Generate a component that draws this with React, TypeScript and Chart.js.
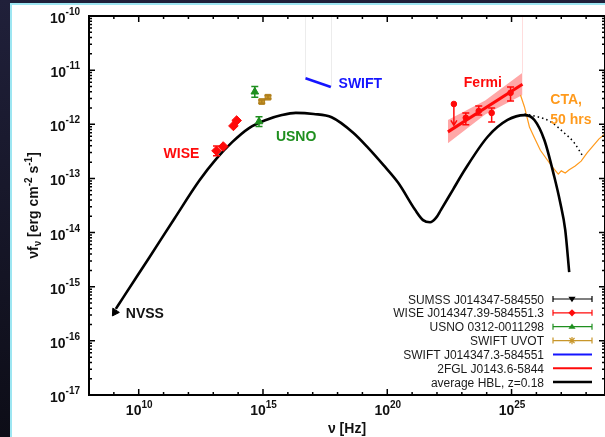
import { useEffect, useRef } from 'react';
import { Chart, registerables } from 'chart.js';

Chart.register(...registerables);

const FONT = '"Liberation Sans", Arial, Helvetica, sans-serif';

// Axes are in decades: log10(ν / Hz) and log10(νFν / erg cm^-2 s^-1)
const X_MIN = 8;
const X_MAX = 28.76;
const Y_MIN = -17;
const Y_MAX = -10;
const xLabelDecades = [10, 15, 20, 25];
const yLabelDecades = [-17, -16, -15, -14, -13, -12, -11, -10];

// average HBL template, z = 0.18
const hblLogNu = [9.08, 9.36, 10.44, 11.44, 12.44, 13.12, 13.76, 14.44, 15.12, 15.76, 16.32, 17.04, 17.76, 18.64, 19.24, 19.84, 20.44, 21.12, 21.44, 21.72, 21.96, 22.16, 22.64, 23.12, 24.04, 24.84, 25.52, 25.92, 26.32, 26.72, 26.96, 27.16, 27.32];
const hblLogFlux = [-15.41, -15.21, -14.45, -13.74, -13.04, -12.64, -12.33, -12.07, -11.92, -11.83, -11.79, -11.81, -11.87, -12.16, -12.44, -12.75, -13.08, -13.58, -13.77, -13.81, -13.73, -13.58, -13.21, -12.84, -12.23, -11.92, -11.83, -11.92, -12.29, -12.97, -13.45, -13.95, -14.73];

// intrinsic (unabsorbed) continuation of the template
const hblIntrinsicLogNu = [25.52, 26.04, 26.56, 27.12, 27.52, 27.84];
const hblIntrinsicLogFlux = [-11.81, -11.86, -11.95, -12.16, -12.34, -12.57];

// CTA sensitivity, 50 hrs
const ctaLogNu = [25.36, 25.52, 25.72, 25.92, 26.16, 26.44, 26.68, 26.88, 27.0, 27.16, 27.32, 27.56, 27.8, 28.04, 28.28, 28.52, 28.76];
const ctaLogFlux = [-11.46, -11.68, -12.05, -12.25, -12.48, -12.66, -12.81, -12.92, -12.86, -12.9, -12.84, -12.77, -12.68, -12.53, -12.4, -12.27, -12.18];

// 2FGL power-law fit and its butterfly
const fermiFitLogNu = [22.44, 25.44];
const fermiFitLogFlux = [-12.14, -11.26];
const fermiBandLogNu = [22.44, 23.94, 25.44];
const fermiBandHigh = [-11.92, -11.56, -11.05];
const fermiBandLow = [-12.35, -11.82, -11.46];

// 2FGL band fluxes
const fermiLogNu = [23.16, 23.68, 24.2, 24.96];
const fermiLogFlux = [-11.88, -11.755, -11.79, -11.42];
const fermiErrLow = [-12.01, -11.83, -11.96, -11.57];
const fermiErrHigh = [-11.79, -11.66, -11.7, -11.31];
const fermiLimitLogNu = [22.68];
const fermiLimitLogFlux = [-11.625];
const fermiLimitArrowTo = [-12.02];

// SWIFT XRT spectrum
const swiftLogNu = [16.71, 17.73];
const swiftLogFlux = [-11.15, -11.31];

// WISE
const wiseLogNu = [13.13, 13.4, 13.81, 13.94];
const wiseLogFlux = [-12.49, -12.41, -12.03, -11.93];
const wiseErr = [0.09, 0, 0, 0];

// USNO
const usnoLogNu = [14.67, 14.84];
const usnoLogFlux = [-11.4, -11.95];
const usnoErr = [0.1, 0.09];

// SWIFT UVOT
const uvotLogNu = [14.95, 15.2];
const uvotLogFlux = [-11.58, -11.5];
const uvotErr = [0.03, 0.03];

// SUMSS
const sumssLogNu = [9.04];
const sumssLogFlux = [-15.47];

const RED = '#ff0a0a';
const GREEN = '#1f8f1f';
const BLUE = '#1515ff';
const GOLD = '#c8962a';
const ORANGE = '#ff9a1c';

const legendLabels = [
  'SUMSS J014347-584550',
  'WISE J014347.39-584551.3',
  'USNO 0312-0011298',
  'SWIFT UVOT',
  'SWIFT J014347.3-584551',
  '2FGL J0143.6-5844',
  'average HBL, z=0.18',
];
const legendKinds = ['err', 'err', 'err', 'err', 'line', 'line', 'line'];
const legendColors = ['#000000', RED, GREEN, GOLD, BLUE, RED, '#000000'];
const legendMarkers = ['downTriangle', 'diamond', 'triangle', 'star', '', '', ''];
const legendWidths = [1.2, 1.2, 1.2, 1.2, 2, 2, 2.5];

// text tags placed in data coordinates (left edge, baseline)
const tagTexts = ['NVSS', 'WISE', 'USNO', 'SWIFT', 'Fermi', 'CTA,', '50 hrs'];
const tagLogNu = [9.48, 11.0, 15.52, 18.04, 23.08, 26.56, 26.56];
const tagLogFlux = [-15.58, -12.62, -12.31, -11.33, -11.31, -11.625, -11.995];
const tagColors = ['#111111', RED, GREEN, BLUE, RED, ORANGE, ORANGE];

function pts(xs: number[], ys: number[]) {
  return xs.map((x, i) => ({ x, y: ys[i] }));
}

function drawMarker(ctx: CanvasRenderingContext2D, kind: string, x: number, y: number, r: number, color: string) {
  ctx.save();
  ctx.fillStyle = color;
  ctx.strokeStyle = color;
  ctx.lineWidth = 1.2;
  ctx.beginPath();
  if (kind === 'downTriangle') {
    ctx.moveTo(x - r, y - r * 0.6);
    ctx.lineTo(x + r, y - r * 0.6);
    ctx.lineTo(x, y + r * 0.9);
    ctx.closePath();
    ctx.fill();
  } else if (kind === 'triangle') {
    ctx.moveTo(x - r, y + r * 0.6);
    ctx.lineTo(x + r, y + r * 0.6);
    ctx.lineTo(x, y - r * 0.9);
    ctx.closePath();
    ctx.fill();
  } else if (kind === 'diamond') {
    ctx.moveTo(x, y - r);
    ctx.lineTo(x + r, y);
    ctx.lineTo(x, y + r);
    ctx.lineTo(x - r, y);
    ctx.closePath();
    ctx.fill();
  } else if (kind === 'star') {
    for (let k = 0; k < 4; k++) {
      const a = (k * Math.PI) / 4;
      ctx.moveTo(x - Math.cos(a) * r, y - Math.sin(a) * r);
      ctx.lineTo(x + Math.cos(a) * r, y + Math.sin(a) * r);
    }
    ctx.stroke();
  }
  ctx.restore();
}

function drawPower(ctx: CanvasRenderingContext2D, exp: string, x: number, baseY: number, align: 'right' | 'center', rise: number) {
  ctx.font = `bold 14px ${FONT}`;
  const w1 = ctx.measureText('10').width;
  ctx.font = `bold 10px ${FONT}`;
  const w2 = ctx.measureText(exp).width;
  const total = w1 + w2;
  const start = align === 'right' ? x - total : x - total / 2;
  ctx.textAlign = 'left';
  ctx.textBaseline = 'alphabetic';
  ctx.font = `bold 14px ${FONT}`;
  ctx.fillText('10', start, baseY);
  ctx.font = `bold 10px ${FONT}`;
  ctx.fillText(exp, start + w1, baseY - rise);
}

const sedPlugin = {
  id: 'sedFrame',
  beforeDraw(chart: any) {
    const { ctx, width, height } = chart;
    ctx.save();
    const g = ctx.createLinearGradient(0, 0, 0, height);
    g.addColorStop(0, '#20203a');
    g.addColorStop(1, '#0d0d17');
    ctx.fillStyle = g;
    ctx.fillRect(0, 0, width, height);
    ctx.fillStyle = '#9de6f2';
    ctx.fillRect(10, 3, width, height);
    ctx.fillStyle = '#ffffff';
    ctx.fillRect(12, 5, width, height);
    ctx.restore();
  },
  beforeDatasetsDraw(chart: any) {
    const { ctx, chartArea } = chart;
    const xs = chart.scales.x;
    const ys = chart.scales.y;
    ctx.save();
    ctx.lineWidth = 1;
    ctx.strokeStyle = '#ececec';
    swiftLogNu.forEach((v, i) => {
      const px = Math.round(xs.getPixelForValue(v)) + 0.5;
      ctx.beginPath();
      ctx.moveTo(px, chartArea.top);
      ctx.lineTo(px, ys.getPixelForValue(swiftLogFlux[i]));
      ctx.stroke();
    });
    ctx.strokeStyle = 'rgba(255,120,120,0.25)';
    const last = fermiBandLogNu.length - 1;
    const bx = Math.round(xs.getPixelForValue(fermiBandLogNu[last])) + 0.5;
    ctx.beginPath();
    ctx.moveTo(bx, chartArea.top);
    ctx.lineTo(bx, ys.getPixelForValue(fermiBandHigh[last]));
    ctx.stroke();
    ctx.restore();
  },
  afterDatasetsDraw(chart: any) {
    const { ctx } = chart;
    const xs = chart.scales.x;
    const ys = chart.scales.y;
    ctx.save();
    chart.data.datasets.forEach((ds: any, i: number) => {
      if (!ds.errLow) return;
      const meta = chart.getDatasetMeta(i);
      ctx.strokeStyle = ds.borderColor;
      ctx.lineWidth = 1.5;
      meta.data.forEach((el: any, j: number) => {
        const y1 = ys.getPixelForValue(ds.errLow[j]);
        const y2 = ys.getPixelForValue(ds.errHigh[j]);
        if (Math.abs(y1 - y2) < 1.5) return;
        ctx.beginPath();
        ctx.moveTo(el.x, y1);
        ctx.lineTo(el.x, y2);
        ctx.moveTo(el.x - 3.5, y1);
        ctx.lineTo(el.x + 3.5, y1);
        ctx.moveTo(el.x - 3.5, y2);
        ctx.lineTo(el.x + 3.5, y2);
        ctx.stroke();
      });
    });
    // upper limit arrow
    ctx.strokeStyle = RED;
    ctx.lineWidth = 1.5;
    fermiLimitLogNu.forEach((v, i) => {
      const px = xs.getPixelForValue(v);
      const y1 = ys.getPixelForValue(fermiLimitLogFlux[i]);
      const y2 = ys.getPixelForValue(fermiLimitArrowTo[i]);
      ctx.beginPath();
      ctx.moveTo(px, y1);
      ctx.lineTo(px, y2);
      ctx.moveTo(px - 3, y2 - 5);
      ctx.lineTo(px, y2);
      ctx.lineTo(px + 3, y2 - 5);
      ctx.stroke();
    });
    ctx.restore();
  },
  afterDraw(chart: any) {
    const { ctx, chartArea } = chart;
    const { left, right, top, bottom } = chartArea;
    const xs = chart.scales.x;
    const ys = chart.scales.y;
    ctx.save();

    // ticks
    ctx.strokeStyle = '#000';
    ctx.lineWidth = 1.5;
    ctx.beginPath();
    for (let d = Math.ceil(X_MIN); d <= Math.floor(X_MAX); d++) {
      const px = xs.getPixelForValue(d);
      const len = xLabelDecades.includes(d) ? 6 : 3;
      ctx.moveTo(px, bottom);
      ctx.lineTo(px, bottom - len);
      ctx.moveTo(px, top);
      ctx.lineTo(px, top + len);
    }
    for (let d = Y_MIN; d <= Y_MAX; d++) {
      for (let k = 1; k <= 9; k++) {
        const v = d + Math.log10(k);
        if (v > Y_MAX) break;
        const py = ys.getPixelForValue(v);
        const len = k === 1 ? 6 : 3;
        ctx.moveTo(left, py);
        ctx.lineTo(left + len, py);
        ctx.moveTo(right, py);
        ctx.lineTo(right - len, py);
      }
    }
    ctx.stroke();

    // frame
    ctx.lineWidth = 2;
    ctx.strokeRect(left, top, right - left, bottom - top);

    // tick labels
    ctx.fillStyle = '#111';
    yLabelDecades.forEach((d) => {
      const py = ys.getPixelForValue(d);
      drawPower(ctx, String(d), 80, py + 7, 'right', 8);
    });
    xLabelDecades.forEach((d) => {
      const px = xs.getPixelForValue(d);
      drawPower(ctx, String(d), px + 0.5, 415, 'center', 7);
    });

    // axis titles
    ctx.font = `bold 14px ${FONT}`;
    ctx.textAlign = 'center';
    ctx.fillText('\u03bd [Hz]', (left + right) / 2, 433);

    const parts = [
      { t: '\u03bdf', s: 14, dy: 0 },
      { t: '\u03bd', s: 10, dy: 3 },
      { t: ' [erg cm', s: 14, dy: 0 },
      { t: '-2', s: 10, dy: -6 },
      { t: ' s', s: 14, dy: 0 },
      { t: '-1', s: 10, dy: -6 },
      { t: ']', s: 14, dy: 0 },
    ];
    let total = 0;
    const widths = parts.map((p) => {
      ctx.font = `bold ${p.s}px ${FONT}`;
      const w = ctx.measureText(p.t).width;
      total += w;
      return w;
    });
    ctx.save();
    ctx.translate(38, (top + bottom) / 2);
    ctx.rotate(-Math.PI / 2);
    ctx.textAlign = 'left';
    let cx = -total / 2;
    parts.forEach((p, i) => {
      ctx.font = `bold ${p.s}px ${FONT}`;
      ctx.fillText(p.t, cx, p.dy);
      cx += widths[i];
    });
    ctx.restore();

    // tags
    ctx.textAlign = 'left';
    ctx.font = `bold 14px ${FONT}`;
    tagTexts.forEach((t, i) => {
      ctx.fillStyle = tagColors[i];
      ctx.fillText(t, xs.getPixelForValue(tagLogNu[i]), ys.getPixelForValue(tagLogFlux[i]));
    });

    // legend
    ctx.font = `12px ${FONT}`;
    ctx.textAlign = 'right';
    legendLabels.forEach((label, i) => {
      const ry = 299 + i * 13.85;
      ctx.fillStyle = '#1a1a1a';
      ctx.fillText(label, 544, ry + 4.5);
      const color = legendColors[i];
      ctx.strokeStyle = color;
      ctx.lineWidth = legendWidths[i];
      ctx.beginPath();
      ctx.moveTo(553, ry);
      ctx.lineTo(592, ry);
      if (legendKinds[i] === 'err') {
        ctx.moveTo(553, ry - 3);
        ctx.lineTo(553, ry + 3);
        ctx.moveTo(592, ry - 3);
        ctx.lineTo(592, ry + 3);
      }
      ctx.stroke();
      if (legendMarkers[i]) drawMarker(ctx, legendMarkers[i], 572, ry, 3.6, color);
    });

    ctx.restore();
  },
};

export default function App() {
  const ref = useRef<HTMLCanvasElement | null>(null);

  useEffect(() => {
    if (!ref.current) return;
    const datasets: any[] = [
      {
        data: pts(fermiBandLogNu, fermiBandLow),
        showLine: true,
        borderColor: 'rgba(0,0,0,0)',
        borderWidth: 1,
        pointRadius: 0,
        fill: false,
        order: 20,
      },
      {
        data: pts(fermiBandLogNu, fermiBandHigh),
        showLine: true,
        borderColor: 'rgba(0,0,0,0)',
        borderWidth: 1,
        pointRadius: 0,
        fill: '-1',
        backgroundColor: 'rgba(255,60,60,0.45)',
        order: 19,
      },
      {
        data: pts(ctaLogNu, ctaLogFlux),
        showLine: true,
        borderColor: ORANGE,
        borderWidth: 1.2,
        pointRadius: 0,
        tension: 0,
        order: 12,
      },
      {
        data: pts(hblIntrinsicLogNu, hblIntrinsicLogFlux),
        showLine: true,
        borderColor: '#000',
        borderWidth: 1.5,
        borderDash: [1.5, 3],
        pointRadius: 0,
        cubicInterpolationMode: 'monotone',
        order: 11,
      },
      {
        data: pts(hblLogNu, hblLogFlux),
        showLine: true,
        borderColor: '#000',
        borderWidth: 2.6,
        pointRadius: 0,
        cubicInterpolationMode: 'monotone',
        order: 10,
      },
      {
        data: pts(fermiFitLogNu, fermiFitLogFlux),
        showLine: true,
        borderColor: RED,
        borderWidth: 3,
        pointRadius: 0,
        order: 8,
      },
      {
        data: pts(swiftLogNu, swiftLogFlux),
        showLine: true,
        borderColor: BLUE,
        borderWidth: 2.6,
        pointRadius: 0,
        order: 8,
      },
      {
        data: pts(sumssLogNu, sumssLogFlux),
        pointStyle: 'triangle',
        rotation: 213,
        pointRadius: 4.5,
        backgroundColor: '#000',
        borderColor: '#000',
        borderWidth: 1,
        order: 5,
      },
      {
        data: pts(wiseLogNu, wiseLogFlux),
        pointStyle: 'rectRot',
        pointRadius: 4.8,
        backgroundColor: RED,
        borderColor: RED,
        borderWidth: 1,
        errLow: wiseLogFlux.map((v, i) => v - wiseErr[i]),
        errHigh: wiseLogFlux.map((v, i) => v + wiseErr[i]),
        order: 5,
      },
      {
        data: pts(usnoLogNu, usnoLogFlux),
        pointStyle: 'triangle',
        pointRadius: 4.4,
        backgroundColor: GREEN,
        borderColor: GREEN,
        borderWidth: 1,
        errLow: usnoLogFlux.map((v, i) => v - usnoErr[i]),
        errHigh: usnoLogFlux.map((v, i) => v + usnoErr[i]),
        order: 5,
      },
      {
        data: pts(uvotLogNu, uvotLogFlux),
        pointStyle: 'rect',
        pointRadius: 4,
        backgroundColor: GOLD,
        borderColor: '#b07f1c',
        borderWidth: 1,
        errLow: uvotLogFlux.map((v, i) => v - uvotErr[i]),
        errHigh: uvotLogFlux.map((v, i) => v + uvotErr[i]),
        order: 5,
      },
      {
        data: pts(fermiLogNu, fermiLogFlux),
        pointStyle: 'circle',
        pointRadius: 2.8,
        backgroundColor: RED,
        borderColor: RED,
        borderWidth: 1,
        errLow: fermiErrLow,
        errHigh: fermiErrHigh,
        order: 4,
      },
      {
        data: pts(fermiLimitLogNu, fermiLimitLogFlux),
        pointStyle: 'circle',
        pointRadius: 2.8,
        backgroundColor: RED,
        borderColor: RED,
        borderWidth: 1,
        order: 4,
      },
    ];

    const chart = new Chart(ref.current, {
      type: 'scatter',
      data: { datasets },
      options: {
        animation: false,
        responsive: false,
        devicePixelRatio: 1,
        events: [],
        layout: { autoPadding: false, padding: { left: 89, top: 16, right: -3, bottom: 42 } },
        scales: {
          x: { type: 'linear', display: false, min: X_MIN, max: X_MAX },
          y: { type: 'linear', display: false, min: Y_MIN, max: Y_MAX },
        },
        plugins: {
          legend: { display: false },
          tooltip: { enabled: false },
        },
      },
      plugins: [sedPlugin],
    } as any);

    return () => chart.destroy();
  }, []);

  return (
    <div style={{ position: 'fixed', left: 0, top: 0, width: 605, height: 437, overflow: 'hidden' }}>
      <canvas ref={ref} width={605} height={437} style={{ width: 605, height: 437, display: 'block' }} />
    </div>
  );
}
